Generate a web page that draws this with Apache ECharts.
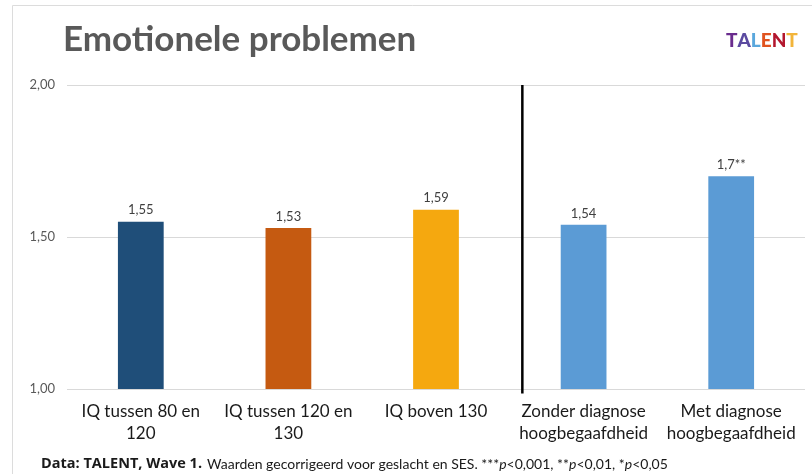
<!DOCTYPE html>
<html>
<head>
<meta charset="utf-8">
<script src="https://cdn.jsdelivr.net/npm/echarts@6/dist/echarts.min.js"></script>
<style>
  html, body { margin: 0; padding: 0; background: #fff; }
  #chart { width: 812px; height: 474px; }
</style>
</head>
<body>
<div id="chart"></div>
<script>
// categories and values
var categories = [
  'IQ tussen 80 en\n120',
  'IQ tussen 120 en\n130',
  'IQ boven 130',
  'Zonder diagnose\nhoogbegaafdheid',
  'Met diagnose\nhoogbegaafdheid'
];
var values = [1.55, 1.53, 1.59, 1.54, 1.70];
var valueLabels = ['1,55', '1,53', '1,59', '1,54', '1,7**'];
var barColors = ['#1f4e79', '#c55a11', '#f5a80f', '#5b9bd5', '#5b9bd5'];
var yTicks = ['1,00', '1,50', '2,00'];
// separator between the IQ groups and the diagnosis groups (category units)
var separatorAt = 2.585;
var separatorRange = [2, 0.985];
var logoLetters = ['T', 'A', 'L', 'E', 'N', 'T'];
var logoColors = ['#6a2c8e', '#5b4aa0', '#5aa7dc', '#e0531f', '#b3172e', '#f2b43a'];

var font = 'Lato';

var logoRich = {};
var logoText = '';
for (var i = 0; i < logoLetters.length; i++) {
  logoRich['l' + i] = { color: logoColors[i], fontSize: 19, fontWeight: 900, fontFamily: font };
  logoText += '{l' + i + '|' + logoLetters[i] + '}';
}

var chart = echarts.init(document.getElementById('chart'));
chart.setOption({
  animation: false,
  backgroundColor: '#fff',
  graphic: [
    {
      type: 'rect',
      shape: { x: 12.5, y: 5.5, width: 810, height: 500 },
      style: { fill: 'none', stroke: '#dcdcdc', lineWidth: 1 },
      silent: true
    }
  ],
  title: [
    {
      text: 'Emotionele problemen',
      left: 58,
      top: 17,
      textStyle: { color: '#595959', fontSize: 35, fontWeight: 'bold', fontFamily: font }
    },
    {
      text: '{b|Data: TALENT, Wave 1.} {n|Waarden gecorrigeerd voor geslacht en SES. ***}{i|p}{n|<0,001, **}{i|p}{n|<0,01, *}{i|p}{n|<0,05}',
      left: 36,
      top: 450,
      textStyle: {
        rich: {
          b: { fontWeight: 'bold', fontSize: 14.5, color: '#1a1a1a', fontFamily: 'Open Sans' },
          n: { fontWeight: 'normal', fontSize: 14, color: '#1a1a1a', fontFamily: font },
          i: { fontWeight: 'normal', fontSize: 14, color: '#1a1a1a', fontStyle: 'italic', fontFamily: font }
        }
      }
    },
    {
      text: logoText,
      left: 721,
      top: 26,
      textStyle: { rich: logoRich }
    }
  ],
  grid: {
    left: 67,
    right: 7,
    top: 85,
    bottom: 85
  },
  xAxis: [
    {
      type: 'category',
      data: categories,
      axisLine: { show: false },
      axisTick: { show: false },
      axisLabel: {
        color: '#1a1a1a',
        fontSize: 17,
        lineHeight: 22,
        margin: 12,
        interval: 0,
        fontFamily: font
      }
    },
    {
      type: 'value',
      min: -0.5,
      max: 4.5,
      show: false
    }
  ],
  yAxis: {
    type: 'value',
    min: 1,
    max: 2,
    interval: 0.5,
    axisLine: { show: false },
    axisTick: { show: false },
    splitLine: { lineStyle: { color: '#d9d9d9' } },
    axisLabel: {
      color: '#595959',
      fontSize: 13,
      margin: 12,
      fontFamily: font,
      formatter: function (v) {
        return yTicks[Math.round((v - 1) / 0.5)];
      }
    }
  },
  series: [
    {
      type: 'bar',
      barWidth: '31%',
      data: values.map(function (v, i) {
        return { value: v, itemStyle: { color: barColors[i] } };
      }),
      label: {
        show: true,
        position: 'top',
        distance: 5,
        color: '#404040',
        fontSize: 13,
        fontFamily: font,
        formatter: function (p) { return valueLabels[p.dataIndex]; }
      }
    },
    {
      type: 'line',
      xAxisIndex: 1,
      clip: false,
      symbol: 'none',
      silent: true,
      lineStyle: { color: '#000', width: 2.5 },
      data: separatorRange.map(function (y) { return [separatorAt, y]; })
    }
  ]
});
</script>
</body>
</html>
